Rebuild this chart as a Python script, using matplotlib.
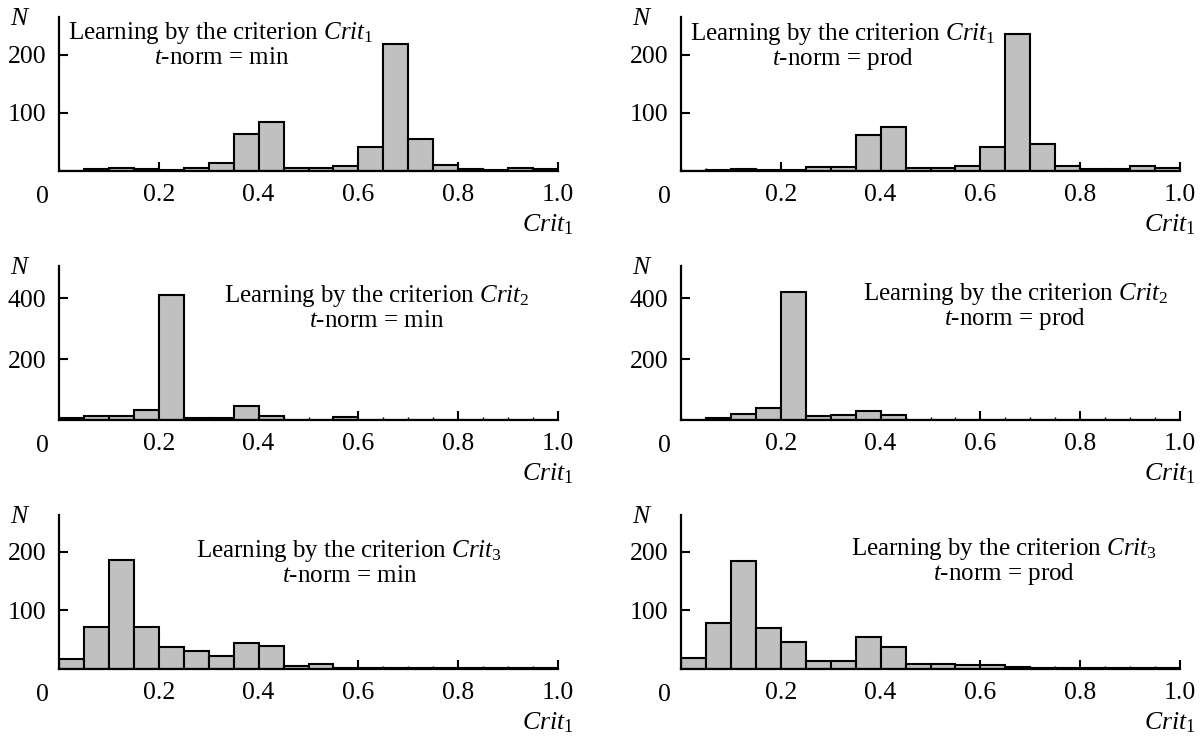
import matplotlib
matplotlib.use("Agg")
import matplotlib.pyplot as plt
from matplotlib.ticker import MultipleLocator, FixedLocator

# ---- data (20 bins of width 0.05 on [0, 1]) ----
bin_left = [0.00, 0.05, 0.10, 0.15, 0.20, 0.25, 0.30, 0.35, 0.40, 0.45,
            0.50, 0.55, 0.60, 0.65, 0.70, 0.75, 0.80, 0.85, 0.90, 0.95]
bin_width = 0.05

crit1_min = [0, 4, 6, 3, 2, 4.5, 13, 63, 85, 6, 6, 8, 42, 219, 55, 10, 4, 2, 6, 3]
crit1_prod = [0, 1, 4, 1, 1, 7, 7, 62.5, 75, 6, 6, 8, 41, 235, 47, 8, 4, 4, 8.5, 5]
crit2_min = [8, 13, 13, 34, 409, 8, 8, 45, 12, 1, 1, 9, 0, 0, 0, 0, 0, 0, 0, 1]
crit2_prod = [0, 7, 21, 38, 421, 12, 15, 28, 15, 0, 0, 0, 0, 0, 0, 0, 0, 0, 0, 0]
crit3_min = [17.5, 72, 187, 72, 38, 30.5, 22.6, 44.6, 40, 5.6, 8, 1, 1, 1, 1, 1, 1, 1, 1, 1]
crit3_prod = [19, 78.5, 183.6, 70, 46, 13, 13.5, 55, 38, 8, 8, 6, 7, 4, 1, 1, 1, 1, 1, 1]

x_ticks = [0.2, 0.4, 0.6, 0.8, 1.0]
x_ticklabels = ["0.2", "0.4", "0.6", "0.8", "1.0"]

panels = [
    # data, criterion index, t-norm, y ticks, y max
    (crit1_min, "1", "min", [100, 200], 265),
    (crit1_prod, "1", "prod", [100, 200], 265),
    (crit2_min, "2", "min", [200, 400], 505),
    (crit2_prod, "2", "prod", [200, 400], 505),
    (crit3_min, "3", "min", [100, 200], 263),
    (crit3_prod, "3", "prod", [100, 200], 263),
]

# ---- style ----
plt.rcParams['font.family'] = ['Liberation Serif', 'DejaVu Serif']
plt.rcParams['mathtext.fontset'] = 'custom'
plt.rcParams['mathtext.rm'] = 'Liberation Serif'
plt.rcParams['mathtext.it'] = 'Liberation Serif:italic'
plt.rcParams['mathtext.bf'] = 'Liberation Serif:bold'

W, H = 1202, 736
fig = plt.figure(figsize=(W / 100, H / 100), dpi=100)

FS = 18.5      # tick labels / axis labels
FS_T = 18      # annotations
col_x0 = [59, 681]
x_span = 499
row_base = [171, 420, 669]
ax_h = 154

# annotation layout per panel: (center x fraction of axis, baseline offset of line 1 below axis top)
text_pos = [
    (0.325, 22), (0.325, 23),
    (0.637, 36), (0.670, 34),
    (0.582, 42), (0.648, 40),
]

def fx(px):
    return px / W

def fy(py):
    return 1 - py / H

for i, (vals, cidx, tnorm, yt, ymax) in enumerate(panels):
    r, c = divmod(i, 2)
    x0 = col_x0[c]
    base = row_base[r]
    top = base - ax_h
    ax = fig.add_axes([fx(x0), fy(base), x_span / W, ax_h / H])
    ax.bar(bin_left, vals, width=bin_width, align='edge',
           facecolor='#c0c0c0', edgecolor='black', linewidth=1.5, zorder=2)
    ax.set_xlim(0, 1)
    ax.set_ylim(0, ymax)
    for s in ['top', 'right']:
        ax.spines[s].set_visible(False)
    for s in ['left', 'bottom']:
        ax.spines[s].set_linewidth(1.6)
        ax.spines[s].set_zorder(3)
    ax.xaxis.set_major_locator(FixedLocator(x_ticks))
    ax.set_xticklabels(x_ticklabels)
    ax.xaxis.set_minor_locator(MultipleLocator(0.05))
    ax.set_yticks(yt)
    ax.set_yticklabels([str(v) for v in yt])
    ax.tick_params(axis='both', which='major', direction='in', length=6.5,
                   width=1.5, labelsize=FS)
    ax.tick_params(axis='x', which='major', pad=9.5)
    ax.tick_params(axis='y', which='major', pad=9)
    ax.tick_params(axis='x', which='minor', direction='in', length=2, width=1.0)
    ax.patch.set_alpha(0)

    # "0" at origin, N label, Crit1 axis label
    fig.text(fx(x0 - 17), fy(base + 26), "0", fontsize=FS, ha='center', va='center')
    fig.text(fx(x0 - 39), fy(top + 2), "$N$", fontsize=FS, ha='center', va='center')
    fig.text(fx(x0 + x_span + 15), fy(base + 60), r"$Crit_1$", fontsize=FS,
             ha='right', va='baseline')

    # annotation
    cxf, off = text_pos[i]
    cx = x0 + cxf * x_span
    fig.text(fx(cx), fy(top + off), r"Learning by the criterion $Crit_{%s}$" % cidx,
             fontsize=FS_T, ha='center', va='baseline')
    fig.text(fx(cx), fy(top + off + 25), r"$t$-norm = %s" % tnorm,
             fontsize=FS_T, ha='center', va='baseline')

fig.savefig("out.png", dpi=100)
